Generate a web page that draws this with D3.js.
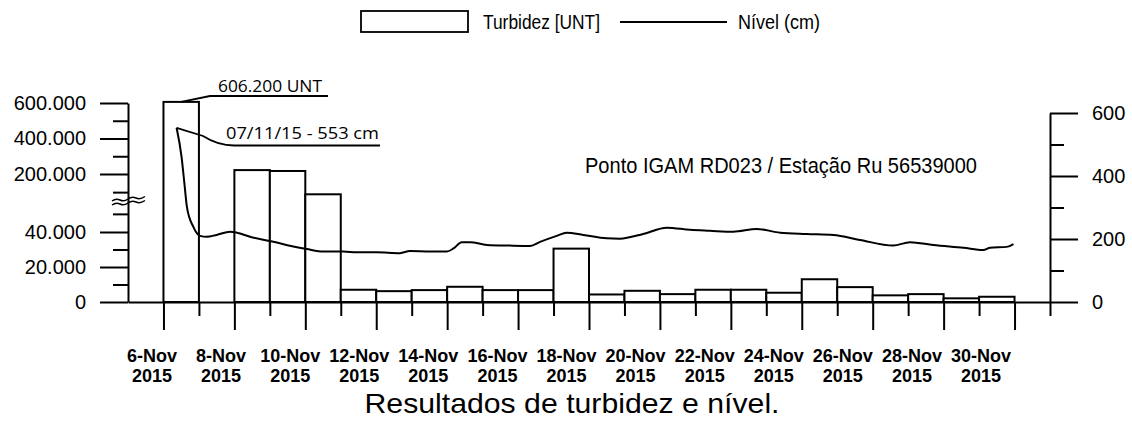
<!DOCTYPE html>
<html><head><meta charset="utf-8">
<script src="https://cdn.jsdelivr.net/npm/d3@7"></script>
<style>body{margin:0;background:#fff}</style>
</head><body>
<svg id="c" width="1132" height="421"></svg>
<script>
// ---------- data ----------
const turbDays   = [7, 9, 10, 11, 12, 13, 14, 15, 16, 17, 18, 19, 20, 21, 22, 23, 24, 25, 26, 27, 28, 29, 30];
const turbValues = [606200, 222000, 217000, 144000, 7000, 6200, 6800, 8700, 6800, 6800, 30500, 4300, 6400, 4500, 7000, 7000, 5300, 13000, 8500, 3800, 4500, 2100, 3000];

const levelTimes  = [7.37, 7.51, 7.60, 7.66, 7.84, 8.03, 8.22, 8.50, 8.88, 9.07, 9.44, 10.10, 10.66, 11.04, 11.51, 12.07, 12.45, 13.01, 13.67, 13.95, 14.52, 14.99, 15.18, 15.41, 15.65, 16.12, 16.77, 17.34, 17.62, 18.09, 18.37, 18.84, 19.50, 19.87, 20.53, 21.19, 21.85, 22.41, 23.07, 23.73, 24.39, 25.14, 25.89, 26.64, 27.58, 28.05, 28.71, 29.56, 30.12, 30.31, 30.78, 30.97];
const levelValues = [553, 461, 366, 303, 239, 210, 207, 213, 223, 220, 207, 191, 176, 168, 160, 160, 158, 158, 155, 162, 160, 160, 170, 190, 190, 181, 179, 178, 191, 210, 220, 213, 202, 201, 216, 236, 229, 226, 223, 232, 220, 216, 213, 197, 179, 190, 181, 172, 165, 172, 175, 184];

const leftTickValues = [0, 20000, 40000, 200000, 400000, 600000];
const leftTickLabels = ["0", "20.000", "40.000", "200.000", "400.000", "600.000"];
const leftMinorTicks = [10000, 30000, 90000, 150000, 300000, 500000];
const rightTickValues = [0, 200, 400, 600];
const rightMinorTicks = [100, 300, 500];
const labelDays = [6, 8, 10, 12, 14, 16, 18, 20, 22, 24, 26, 28, 30];
const monthName = "Nov";
const yearName = "2015";
const peakTurbLabel = "606.200 UNT";
const peakLevelLabel = "07/11/15 - 553 cm";
const stationLabel = "Ponto IGAM RD023 / Estação Ru 56539000";
const titleText = "Resultados de turbidez e nível.";
const legendLabels = ["Turbidez [UNT]", "Nível (cm)"];

// ---------- layout ----------
const svg = d3.select("#c");
const FONT = "'Liberation Sans', Arial, sans-serif";
const x = d3.scaleLinear().domain([6, 32]).range([128, 1050]);
const xl = d3.scaleLinear().domain([6, 30]).range([152, 981]); // label positions
const yL = d3.scaleLinear()
  .domain([0, 20000, 40000, 200000, 400000, 600000])
  .range([302, 267, 232, 174, 138.5, 103]);
const yR = d3.scaleLinear().domain([0, 600]).range([302, 113]);

function styleAxis(g, fs) {
  g.selectAll("path.domain").attr("stroke", "#000").attr("stroke-width", 2);
  g.selectAll(".tick line").attr("stroke", "#000").attr("stroke-width", 2);
  g.selectAll(".tick text").attr("font-family", FONT).attr("font-size", fs).attr("fill", "#000");
}

// bars
svg.append("g").selectAll("rect").data(turbDays).join("rect")
  .attr("x", d => x(d))
  .attr("width", d => x(d + 1) - x(d))
  .attr("y", (d, i) => yL(turbValues[i]))
  .attr("height", (d, i) => yL(0) - yL(turbValues[i]))
  .attr("fill", "#fff").attr("stroke", "#000").attr("stroke-width", 2);

// x axis ticks (odd days long, even short)
const oddDays = d3.range(7, 33).filter(d => d % 2 === 1);
const evenDays = d3.range(7, 33).filter(d => d % 2 === 0);
const gx1 = svg.append("g").attr("transform", `translate(0,${yL(0)})`)
  .call(d3.axisBottom(x).tickValues(oddDays).tickSize(28).tickSizeOuter(0).tickFormat(""));
styleAxis(gx1, 18);
const gx2 = svg.append("g").attr("transform", `translate(0,${yL(0)})`)
  .call(d3.axisBottom(x).tickValues(evenDays).tickSize(14).tickSizeOuter(0).tickFormat(""));
styleAxis(gx2, 18);
gx2.select("path.domain").remove();

// left axis
const gl = svg.append("g").attr("transform", `translate(${x(6)},0)`)
  .call(d3.axisLeft(yL).tickValues(leftTickValues).tickFormat((d, i) => leftTickLabels[i])
    .tickSize(28).tickSizeOuter(0).tickPadding(14));
styleAxis(gl, 20);
const glm = svg.append("g").attr("transform", `translate(${x(6)},0)`)
  .call(d3.axisLeft(yL).tickValues(leftMinorTicks).tickFormat("").tickSize(15).tickSizeOuter(0));
styleAxis(glm, 20);
glm.select("path.domain").remove();

// axis break squiggle
svg.append("path").attr("d", "M112,205 q4,-3 8,-1 t8,-1 t8,-1 t9,-1.5").attr("fill", "none").attr("stroke", "#000").attr("stroke-width", 1.5);
svg.append("path").attr("d", "M112,201 q4,-3 8,-1 t8,-1 t8,-1 t9,-1.5").attr("fill", "none").attr("stroke", "#000").attr("stroke-width", 1.5);

// right axis
const gr = svg.append("g").attr("transform", `translate(${x(32)},0)`)
  .call(d3.axisRight(yR).tickValues(rightTickValues).tickSize(28).tickSizeOuter(0).tickPadding(14));
styleAxis(gr, 20);
const grm = svg.append("g").attr("transform", `translate(${x(32)},0)`)
  .call(d3.axisRight(yR).tickValues(rightMinorTicks).tickFormat("").tickSize(14).tickSizeOuter(0));
styleAxis(grm, 20);
grm.select("path.domain").remove();

// level line
const line = d3.line().x(d => x(d[0])).y(d => yR(d[1])).curve(d3.curveMonotoneX);
svg.append("path").datum(levelTimes.map((t, i) => [t, levelValues[i]]))
  .attr("d", line).attr("fill", "none").attr("stroke", "#000").attr("stroke-width", 2);

// x labels
const xlab = svg.append("g").attr("font-family", FONT).attr("font-size", 18).attr("font-weight", "bold").attr("text-anchor", "middle");
labelDays.forEach(d => {
  const t = xlab.append("text").attr("x", xl(d)).attr("y", 362);
  t.append("tspan").attr("x", xl(d)).text(d + "-" + monthName);
  t.append("tspan").attr("x", xl(d)).attr("dy", 20).text(yearName);
});

// annotations
const i0 = turbDays.indexOf(7);
const bx = (x(7) + x(8)) / 2, by = yL(turbValues[i0]);
svg.append("path").attr("d", `M${bx},${by} L210,96 L328,96`).attr("fill", "none").attr("stroke", "#000").attr("stroke-width", 1.8);
svg.append("text").attr("x", 218).attr("y", 92).attr("font-family", "'Open Sans', sans-serif").attr("font-size", 16)
  .attr("textLength", 104).attr("lengthAdjust", "spacingAndGlyphs").text(peakTurbLabel);
const px = x(levelTimes[0]), py = yR(levelValues[0]);
svg.append("path").attr("d", `M${px},${py} L203,136 Q218,145.5 234,145.5 L380,145.5`).attr("fill", "none").attr("stroke", "#000").attr("stroke-width", 1.8);
svg.append("text").attr("x", 226).attr("y", 139).attr("font-family", "'Open Sans', sans-serif").attr("font-size", 16)
  .attr("textLength", 153).attr("lengthAdjust", "spacingAndGlyphs").text(peakLevelLabel);

svg.append("text").attr("x", 585).attr("y", 173).attr("font-family", FONT).attr("font-size", 22)
  .attr("textLength", 392).attr("lengthAdjust", "spacingAndGlyphs").text(stationLabel);

// legend
svg.append("rect").attr("x", 361).attr("y", 11).attr("width", 107).attr("height", 21)
  .attr("fill", "#fff").attr("stroke", "#000").attr("stroke-width", 1.8);
svg.append("text").attr("x", 483).attr("y", 29).attr("font-family", FONT).attr("font-size", 21)
  .attr("textLength", 117).attr("lengthAdjust", "spacingAndGlyphs").text(legendLabels[0]);
svg.append("line").attr("x1", 620).attr("x2", 727).attr("y1", 22).attr("y2", 22).attr("stroke", "#000").attr("stroke-width", 2);
svg.append("text").attr("x", 738).attr("y", 29).attr("font-family", FONT).attr("font-size", 21)
  .attr("textLength", 82).attr("lengthAdjust", "spacingAndGlyphs").text(legendLabels[1]);

// title
svg.append("text").attr("x", 572).attr("y", 413).attr("text-anchor", "middle").attr("font-family", FONT)
  .attr("font-size", 28).attr("textLength", 415).attr("lengthAdjust", "spacingAndGlyphs").text(titleText);
</script>
</body></html>
